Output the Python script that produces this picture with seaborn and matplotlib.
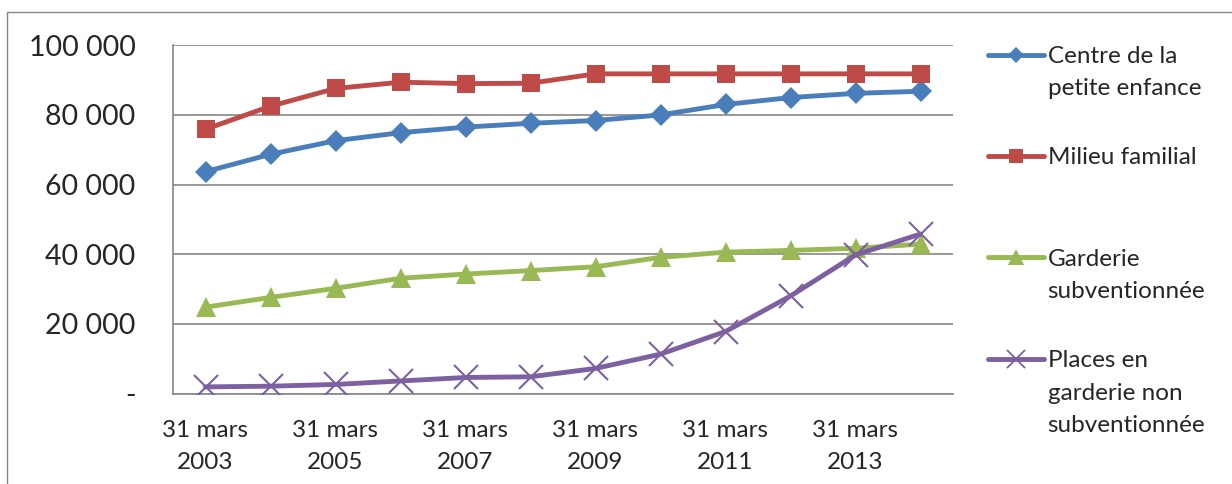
import matplotlib
matplotlib.use("Agg")
import matplotlib.pyplot as plt
import seaborn as sns
import pandas as pd
from matplotlib.lines import Line2D

# données
annees = list(range(2003, 2015))
centre_pe = [63700, 68700, 72600, 74900, 76500, 77600, 78400, 80000, 83000, 85000, 86200, 86800]
milieu_familial = [75900, 82500, 87600, 89400, 89000, 89100, 91800, 91800, 91800, 91800, 91800, 91800]
garderie_sub = [24800, 27600, 30200, 33100, 34300, 35300, 36400, 39100, 40600, 41100, 41700, 42900]
garderie_non_sub = [1900, 2100, 2600, 3600, 4600, 4800, 7200, 11300, 17800, 28000, 39800, 45800]

series = ["Centre de la\npetite enfance", "Milieu familial",
          "Garderie\nsubventionnée", "Places en\ngarderie non\nsubventionnée"]
valeurs = [centre_pe, milieu_familial, garderie_sub, garderie_non_sub]
couleurs = ["#4A7EBB", "#BE4B48", "#98B954", "#7D60A0"]
marqueurs = ["D", "s", "^", "x"]
tailles = [11, 13, 15, 17]

y_ticks = [0, 20000, 40000, 60000, 80000, 100000]
y_labels = ["-", "20 000", "40 000", "60 000", "80 000", "100 000"]

df = pd.DataFrame({
    "pos": list(range(len(annees))) * len(series),
    "valeur": sum(valeurs, []),
    "serie": [s for s in series for _ in annees],
})

sns.set_style("white")
plt.rcParams["font.family"] = ["Lato", "DejaVu Sans"]

fig = plt.figure(figsize=(12.32, 4.84), dpi=100)
W, H = 1232, 484
ax = fig.add_axes([173 / W, 1 - 393.5 / H, (953 - 173) / W, (393.5 - 45.3) / H])

gris = "#868686"
for s, c, m, t in zip(series, couleurs, marqueurs, tailles):
    sub = df[df["serie"] == s]
    sns.lineplot(data=sub, x="pos", y="valeur", ax=ax, color=c, lw=3.5,
                 marker=m, markersize=t, markeredgewidth=1.5 if m == "x" else 0,
                 markeredgecolor=c, legend=False, zorder=3)

ax.set_xlim(-0.5, len(annees) - 0.5)
ax.set_ylim(0, 100000)
ax.set_xlabel("")
ax.set_ylabel("")

ax.set_yticks(y_ticks)
ax.set_yticklabels(y_labels, fontsize=20.5)
ax.yaxis.grid(True, color=gris, lw=1.2)
ax.set_axisbelow(True)

ax.set_xticks(list(range(0, len(annees), 2)))
ax.set_xticklabels([f"31 mars\n{a}" for a in annees[::2]], fontsize=17.5,
                   linespacing=1.65)
ax.set_xticks([i - 0.5 for i in range(len(annees) + 1)], minor=True)
ax.tick_params(axis="x", which="major", length=0, pad=19)
ax.tick_params(axis="x", which="minor", length=7, width=1.2, color=gris, direction="out")
ax.tick_params(axis="y", length=8, width=1.2, color=gris, direction="out", pad=19)

for side in ["top", "right"]:
    ax.spines[side].set_visible(False)
for side in ["left", "bottom"]:
    ax.spines[side].set_color(gris)
    ax.spines[side].set_linewidth(1.2)

# légende
poignees = [Line2D([], [], color=c, lw=3.5, marker=m,
                   markersize=t * 0.75, markeredgewidth=1.3 if m == "x" else 0,
                   markeredgecolor=c)
            for c, m, t in zip(couleurs, marqueurs, tailles)]
etiquettes = []
for s in series:
    n = s.count("\n")
    etiquettes.append(s + "\n" * (2 - n))
leg = fig.legend(poignees, etiquettes, loc="upper left",
                 bbox_to_anchor=(988 / W, 1 - 46 / H), frameon=False,
                 fontsize=17.5, handlelength=2.3, handletextpad=0.15,
                 labelspacing=0.66, borderaxespad=0, borderpad=0)
for t in leg.get_texts():
    t.set_linespacing(1.66)
for col in leg._legend_handle_box.get_children():
    for row in col.get_children():
        row.align = "top"

# cadre extérieur
fig.add_artist(Line2D([7 / W, 7 / W], [0, 1 - 12 / H], color=gris, lw=1))
fig.add_artist(Line2D([7 / W, 1], [1 - 12 / H, 1 - 12 / H], color=gris, lw=1))

fig.savefig("out.png", dpi=100)
